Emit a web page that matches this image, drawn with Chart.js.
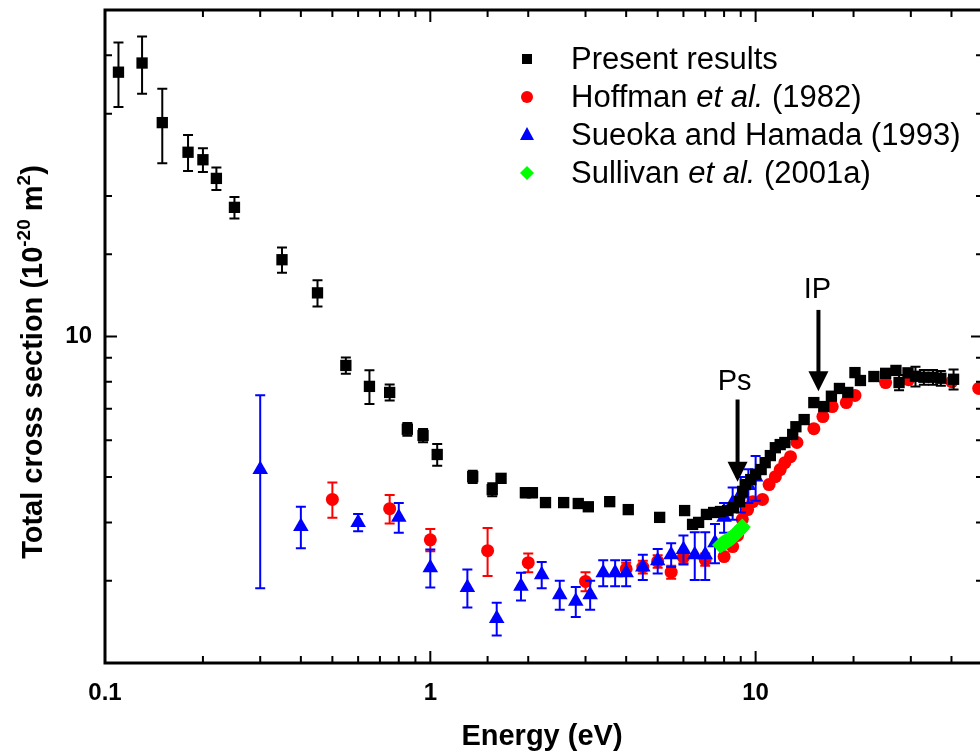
<!DOCTYPE html>
<html>
<head>
<meta charset="utf-8">
<script src="https://cdn.jsdelivr.net/npm/chart.js@4.4.1/dist/chart.umd.min.js"></script>
<style>
  html, body { margin: 0; padding: 0; background: #fff; overflow: hidden; }
  #wrap { width: 980px; height: 754px; overflow: hidden; position: relative; }
  canvas { display: block; }
</style>
</head>
<body>
<div id="wrap"><canvas id="Chart" width="992" height="754"></canvas></div>
<script>
// tick labels
const xMajorTicks = [0.1, 1, 10];
const yMajorTicks = [10];

// Present results (energy eV, cross section 1e-20 m2, error)
const presentE   = [0.11, 0.13, 0.15, 0.18, 0.20, 0.22, 0.25, 0.35, 0.45, 0.55, 0.65, 0.75, 0.85, 0.95, 1.05, 1.35, 1.55, 1.65, 1.96, 2.06, 2.26, 2.57, 2.85, 3.06, 3.56, 4.06, 5.07, 6.05, 6.40, 6.68, 7.06, 7.43, 7.80, 8.20, 8.55, 8.93, 9.12, 9.30, 9.66, 10.0, 10.4, 10.7, 11.1, 11.5, 11.9, 12.3, 13.0, 13.3, 14.1, 15.1, 16.2, 17.1, 18.1, 19.2, 20.2, 21.0, 23.1, 25.1, 27.0, 27.6, 29.4, 31.0, 32.9, 35.1, 37.1, 40.6];
const presentCS  = [36.8, 38.5, 28.7, 24.8, 23.9, 21.8, 18.9, 14.6, 12.4, 8.67, 7.82, 7.59, 6.33, 6.14, 5.59, 5.01, 4.70, 4.97, 4.63, 4.63, 4.41, 4.41, 4.39, 4.32, 4.43, 4.26, 4.10, 4.24, 3.96, 4.00, 4.16, 4.20, 4.22, 4.24, 4.30, 4.43, 4.66, 4.82, 4.94, 5.07, 5.19, 5.37, 5.56, 5.78, 5.87, 5.93, 6.17, 6.41, 6.64, 7.22, 7.08, 7.45, 7.74, 7.59, 8.37, 8.05, 8.21, 8.34, 8.46, 7.97, 8.36, 8.22, 8.18, 8.18, 8.14, 8.10];
const presentErr = [5.8, 5.4, 5.2, 2.2, 1.4, 1.2, 1.0, 0.9, 0.8, 0.35, 0.65, 0.3, 0.2, 0.2, 0.3, 0.15, 0.15, 0.1, 0.1, 0.1, 0.05, 0.05, 0.05, 0.05, 0.05, 0.05, 0.05, 0.05, 0, 0, 0, 0, 0, 0, 0, 0, 0, 0, 0, 0, 0, 0, 0, 0, 0, 0, 0, 0, 0, 0, 0, 0, 0, 0, 0, 0, 0, 0, 0, 0.3, 0, 0.4, 0.3, 0.3, 0.3, 0.4];

// Hoffman et al. (1982)
const hoffmanE   = [0.5, 0.75, 1.0, 1.5, 2.0, 3.0, 4.0, 4.5, 5.0, 5.5, 6.0, 7.0, 8.0, 8.5, 8.8, 9.1, 9.45, 9.8, 10.5, 11.0, 11.5, 11.9, 12.3, 12.8, 13.4, 15.1, 16.1, 17.2, 19.0, 20.2, 25.1, 29.5, 40.1, 48.5];
const hoffmanCS  = [4.48, 4.28, 3.67, 3.48, 3.28, 2.99, 3.18, 3.21, 3.30, 3.13, 3.37, 3.33, 3.38, 3.55, 3.75, 4.06, 4.26, 4.43, 4.48, 4.82, 5.01, 5.19, 5.37, 5.53, 5.93, 6.35, 6.74, 7.08, 7.22, 7.48, 7.97, 8.08, 8.00, 7.74];
const hoffmanErr = [0.39, 0.3, 0.2, 0.41, 0.15, 0.14, 0.1, 0.1, 0.1, 0.1, 0.1, 0.1, 0, 0, 0, 0, 0, 0, 0, 0, 0, 0, 0, 0, 0, 0, 0, 0, 0, 0, 0, 0, 0, 0];

// Sueoka and Hamada (1993)
const sueokaE   = [0.3, 0.4, 0.6, 0.8, 1.0, 1.3, 1.6, 1.9, 2.2, 2.5, 2.8, 3.1, 3.4, 3.7, 4.0, 4.5, 5.0, 5.5, 6.0, 6.5, 7.0, 7.5, 8.0, 8.5, 9.0, 9.5, 10.0];
const sueokaCS  = [5.19, 3.92, 4.00, 4.10, 3.20, 2.90, 2.49, 2.92, 3.09, 2.80, 2.71, 2.80, 3.12, 3.12, 3.12, 3.21, 3.31, 3.41, 3.50, 3.41, 3.41, 3.62, 4.10, 4.40, 4.60, 4.80, 5.00];
const sueokaErr = [2.3, 0.4, 0.17, 0.3, 0.3, 0.27, 0.2, 0.2, 0.2, 0.2, 0.2, 0.2, 0.2, 0.2, 0.2, 0.2, 0.2, 0.2, 0.25, 0.4, 0.4, 0.35, 0.3, 0.35, 0.4, 0.4, 0.55];

// Sullivan et al. (2001a)
const sullivanE  = [7.8, 7.9, 8.0, 8.1, 8.2, 8.3, 8.4, 8.5, 8.6, 8.7, 8.8, 8.9, 9.0, 9.1];
const sullivanCS = [3.58, 3.60, 3.62, 3.64, 3.66, 3.68, 3.70, 3.72, 3.75, 3.78, 3.81, 3.84, 3.87, 3.91];

const FONT = '"Liberation Sans", Arial, sans-serif';

function toPoints(xs, ys) {
    return xs.map((x, i) => ({ x: x, y: ys[i] }));
}

function isMajor(v, list) {
    return list.some(m => Math.abs(m - v) / m < 1e-6);
}

// error bars, drawn under each dataset's markers
const errorBars = {
    id: 'errorBars',
    beforeDatasetDraw(chart, args) {
        const ds = chart.data.datasets[args.index];
        if (!ds.errors) return;
        const ctx = chart.ctx, xs = chart.scales.x, ys = chart.scales.y, a = chart.chartArea;
        ctx.save();
        ctx.beginPath();
        ctx.rect(a.left, a.top, a.right - a.left, a.bottom - a.top);
        ctx.clip();
        ctx.strokeStyle = ds.backgroundColor;
        ctx.lineWidth = 2;
        ds.data.forEach((p, i) => {
            const e = ds.errors[i];
            if (!e) return;
            const px = xs.getPixelForValue(p.x);
            const top = ys.getPixelForValue(p.y + e);
            const bot = ys.getPixelForValue(p.y - e);
            ctx.beginPath();
            ctx.moveTo(px, top); ctx.lineTo(px, bot);
            ctx.moveTo(px - 5, top); ctx.lineTo(px + 5, top);
            ctx.moveTo(px - 5, bot); ctx.lineTo(px + 5, bot);
            ctx.stroke();
        });
        ctx.restore();
    }
};

// box frame with inward ticks on all four sides
const frame = {
    id: 'frame',
    afterDraw(chart) {
        const ctx = chart.ctx, a = chart.chartArea;
        const xs = chart.scales.x, ys = chart.scales.y;
        ctx.save();
        ctx.strokeStyle = '#000';
        ctx.lineWidth = 2;
        ctx.beginPath();
        xs.ticks.forEach(t => {
            const px = xs.getPixelForValue(t.value);
            if (px <= a.left + 1 || px >= a.right - 1) return;
            const len = isMajor(t.value, xMajorTicks) ? 12 : 7;
            ctx.moveTo(px, a.bottom); ctx.lineTo(px, a.bottom - len);
            ctx.moveTo(px, a.top); ctx.lineTo(px, a.top + len);
        });
        ys.ticks.forEach(t => {
            const py = ys.getPixelForValue(t.value);
            if (py <= a.top + 1 || py >= a.bottom - 1) return;
            const len = isMajor(t.value, yMajorTicks) ? 12 : 7;
            ctx.moveTo(a.left, py); ctx.lineTo(a.left + len, py);
            ctx.moveTo(a.right, py); ctx.lineTo(a.right - len, py);
        });
        ctx.stroke();
        ctx.lineWidth = 3;
        ctx.strokeRect(a.left, a.top, a.right - a.left, a.bottom - a.top);
        ctx.restore();
    }
};

function drawArrow(ctx, x, y0, y1) {
    ctx.lineWidth = 4;
    ctx.beginPath();
    ctx.moveTo(x, y0); ctx.lineTo(x, y1 - 18);
    ctx.stroke();
    ctx.beginPath();
    ctx.moveTo(x - 10, y1 - 20);
    ctx.lineTo(x + 10, y1 - 20);
    ctx.lineTo(x, y1);
    ctx.closePath();
    ctx.fill();
}

// axis titles, annotations and the legend
const labels = {
    id: 'labels',
    afterDraw(chart) {
        const ctx = chart.ctx, xs = chart.scales.x, ys = chart.scales.y;
        ctx.save();
        ctx.fillStyle = '#000';
        ctx.strokeStyle = '#000';
        ctx.textAlign = 'left';
        ctx.textBaseline = 'alphabetic';

        // y title with superscripts
        const big = 'bold 29px ' + FONT, small = 'bold 19px ' + FONT;
        const parts = [['Total cross section (10', big, 0], ['-20', small, -12], [' m', big, 0], ['2', small, -12], [')', big, 0]];
        let total = 0;
        parts.forEach(p => { ctx.font = p[1]; total += ctx.measureText(p[0]).width; });
        ctx.save();
        ctx.translate(42, 362);
        ctx.rotate(-Math.PI / 2);
        let cx = -total / 2;
        parts.forEach(p => { ctx.font = p[1]; ctx.fillText(p[0], cx, p[2]); cx += ctx.measureText(p[0]).width; });
        ctx.restore();

        // x title
        ctx.font = 'bold 29px ' + FONT;
        ctx.textAlign = 'center';
        ctx.fillText('Energy (eV)', 542, 745);

        // Ps and IP markers
        ctx.font = '29px ' + FONT;
        ctx.textBaseline = 'middle';
        const psX = xs.getPixelForValue(8.8);
        ctx.fillText('Ps', psX - 3, ys.getPixelForValue(8.0));
        drawArrow(ctx, psX, ys.getPixelForValue(7.33), ys.getPixelForValue(4.89));
        const ipX = xs.getPixelForValue(15.6);
        ctx.fillText('IP', ipX - 1, ys.getPixelForValue(12.6));
        drawArrow(ctx, ipX, ys.getPixelForValue(11.4), ys.getPixelForValue(7.63));

        // legend
        ctx.textAlign = 'left';
        chart.data.datasets.forEach((d, i) => {
            const mx = 527, my = 59 + i * 38;
            ctx.fillStyle = d.backgroundColor;
            ctx.beginPath();
            if (d.pointStyle === 'rect') {
                ctx.rect(mx - 5, my - 5, 10, 10);
            } else if (d.pointStyle === 'circle') {
                ctx.arc(mx, my, 6, 0, Math.PI * 2);
            } else if (d.pointStyle === 'triangle') {
                ctx.moveTo(mx, my - 8); ctx.lineTo(mx + 7, my + 5); ctx.lineTo(mx - 7, my + 5); ctx.closePath();
            } else {
                ctx.moveTo(mx, my - 7); ctx.lineTo(mx + 7, my); ctx.lineTo(mx, my + 7); ctx.lineTo(mx - 7, my); ctx.closePath();
            }
            ctx.fill();
            ctx.fillStyle = '#000';
            // parts: normal / italic
            let tx = 571;
            d.legendParts.forEach(p => {
                ctx.font = (p[1] ? 'italic ' : '') + '31px ' + FONT;
                ctx.fillText(p[0], tx, my + 1);
                tx += ctx.measureText(p[0]).width;
            });
        });
        ctx.restore();
    }
};

const ctx = document.getElementById('Chart').getContext('2d');
const myChart = new Chart(ctx, {
    type: 'scatter',
    data: {
        datasets: [{
            label: 'Present results',
            legendParts: [['Present results', false]],
            data: toPoints(presentE, presentCS),
            errors: presentErr,
            backgroundColor: '#000000',
            pointStyle: 'rect',
            pointRadius: 8,
            borderWidth: 0,
            order: 0
        }, {
            label: 'Hoffman et al. (1982)',
            legendParts: [['Hoffman ', false], ['et al.', true], [' (1982)', false]],
            data: toPoints(hoffmanE, hoffmanCS),
            errors: hoffmanErr,
            backgroundColor: '#ff0000',
            pointStyle: 'circle',
            pointRadius: 6.5,
            borderWidth: 0,
            order: 3
        }, {
            label: 'Sueoka and Hamada (1993)',
            legendParts: [['Sueoka and Hamada (1993)', false]],
            data: toPoints(sueokaE, sueokaCS),
            errors: sueokaErr,
            backgroundColor: '#0000ff',
            pointStyle: 'triangle',
            pointRadius: 9,
            borderWidth: 0,
            order: 2
        }, {
            label: 'Sullivan et al. (2001a)',
            legendParts: [['Sullivan ', false], ['et al.', true], [' (2001a)', false]],
            data: toPoints(sullivanE, sullivanCS),
            backgroundColor: '#00ff00',
            pointStyle: 'rectRot',
            pointRadius: 8.5,
            borderWidth: 0,
            order: 1
        }]
    },
    options: {
        responsive: false,
        animation: false,
        devicePixelRatio: 1,
        layout: { padding: { top: 10, right: 9, left: 0, bottom: 0 } },
        plugins: {
            legend: { display: false },
            tooltip: { enabled: false }
        },
        scales: {
            x: {
                type: 'logarithmic',
                min: 0.1,
                max: 50,
                grid: { display: false, drawTicks: false },
                border: { display: false },
                afterFit: s => { s.height = 91; s.paddingLeft = 0; s.paddingRight = 0; },
                ticks: {
                    autoSkip: false,
                    maxRotation: 0,
                    padding: 16,
                    color: '#000',
                    font: { family: FONT, size: 24, weight: 'bold' },
                    callback: v => isMajor(v, xMajorTicks) ? String(v) : ''
                }
            },
            y: {
                type: 'logarithmic',
                min: 2,
                max: 50,
                grid: { display: false, drawTicks: false },
                border: { display: false },
                afterFit: s => { s.width = 105; s.paddingTop = 0; s.paddingBottom = 0; },
                ticks: {
                    autoSkip: false,
                    padding: 13,
                    color: '#000',
                    font: { family: FONT, size: 24, weight: 'bold' },
                    callback: v => isMajor(v, yMajorTicks) ? String(v) : ''
                }
            }
        }
    },
    plugins: [errorBars, frame, labels]
});
</script>
</body>
</html>
